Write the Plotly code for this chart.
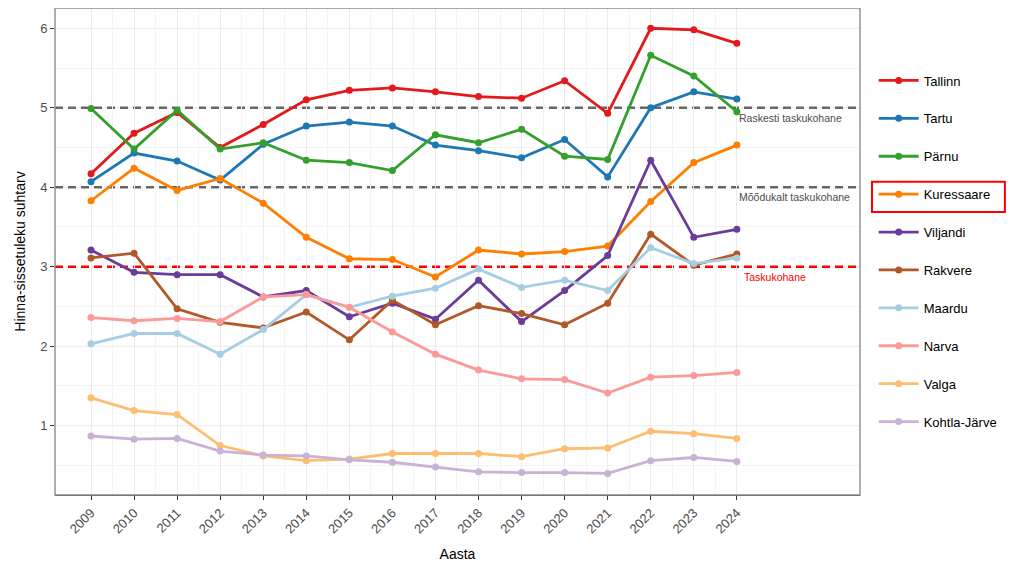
import plotly.graph_objects as go

years = list(range(2009, 2025))
y_ticks = [1, 2, 3, 4, 5, 6]

cities = ["Tallinn", "Tartu", "Pärnu", "Kuressaare", "Viljandi",
          "Rakvere", "Maardu", "Narva", "Valga", "Kohtla-Järve"]

colors = ["#E31A1C", "#1F78B4", "#33A02C", "#FF7F00", "#6A3D9A",
          "#B15928", "#A6CEE3", "#FB9A99", "#FDBF6F", "#CAB2D6"]

tallinn = [4.17, 4.68, 4.94, 4.50, 4.79, 5.10, 5.22, 5.25, 5.20, 5.14, 5.12, 5.34, 4.93, 6.00, 5.98, 5.81]
tartu = [4.07, 4.43, 4.33, 4.09, 4.54, 4.77, 4.82, 4.77, 4.53, 4.46, 4.37, 4.60, 4.13, 5.00, 5.20, 5.11]
parnu = [4.99, 4.48, 4.97, 4.48, 4.56, 4.34, 4.31, 4.21, 4.66, 4.56, 4.73, 4.39, 4.35, 5.66, 5.40, 4.95]
kuressaare = [3.83, 4.24, 3.96, 4.11, 3.80, 3.37, 3.10, 3.09, 2.87, 3.21, 3.16, 3.19, 3.26, 3.82, 4.31, 4.53]
viljandi = [3.21, 2.93, 2.90, 2.90, 2.62, 2.70, 2.37, 2.54, 2.34, 2.83, 2.31, 2.70, 3.14, 4.34, 3.37, 3.47]
rakvere = [3.11, 3.17, 2.47, 2.30, 2.23, 2.43, 2.08, 2.58, 2.27, 2.51, 2.41, 2.27, 2.54, 3.41, 3.02, 3.16]
maardu = [2.03, 2.16, 2.16, 1.90, 2.21, 2.65, 2.49, 2.63, 2.73, 2.97, 2.74, 2.83, 2.70, 3.24, 3.04, 3.11]
narva = [2.36, 2.32, 2.35, 2.31, 2.62, 2.65, 2.49, 2.18, 1.90, 1.70, 1.59, 1.58, 1.41, 1.61, 1.63, 1.67]
valga = [1.35, 1.19, 1.14, 0.75, 0.62, 0.56, 0.58, 0.65, 0.65, 0.65, 0.61, 0.71, 0.72, 0.93, 0.90, 0.84]
kohtla = [0.87, 0.83, 0.84, 0.68, 0.63, 0.62, 0.57, 0.54, 0.48, 0.42, 0.41, 0.41, 0.40, 0.56, 0.60, 0.55]

series = [tallinn, tartu, parnu, kuressaare, viljandi,
          rakvere, maardu, narva, valga, kohtla]

# threshold lines: value, label, colour
thresholds = [
    (5, "Raskesti taskukohane", "#666666"),
    (4, "Mõõdukalt taskukohane", "#666666"),
    (3, "Taskukohane", "#FF0000"),
]

fig = go.Figure()

for name, vals, col in zip(cities, series, colors):
    fig.add_trace(go.Scatter(
        x=years, y=vals, name=name, mode="lines+markers",
        line=dict(color=col, width=2.8),
        marker=dict(color=col, size=7),
        legendgroup=name,
    ))

# horizontal major grid as shapes, so the dashed thresholds can sit on top of it
for v in y_ticks:
    fig.add_hline(y=v, line=dict(color="#EBEBEB", width=1), layer="below")

for val, label, col in thresholds:
    fig.add_hline(y=val, line=dict(color=col, width=2.4, dash="8px,5px"), layer="below")
    fig.add_annotation(
        x=years[-1], y=val, text=label, showarrow=False,
        xanchor="left", yanchor="top", xshift=0 if val != 3 else 5, yshift=-2,
        font=dict(size=10.5, color="#FF0000" if val == 3 else "#4D4D4D"),
    )

# panel border (theme_bw style)
fig.add_shape(type="rect", xref="paper", yref="paper", x0=0, x1=1, y0=0, y1=1,
              line=dict(color="#8C8C8C", width=1.4), layer="above")

# highlight box around Kuressaare in the legend
fig.add_shape(type="rect", xref="paper", yref="paper",
              x0=1.0149, x1=1.180, y0=0.581, y1=0.643,
              line=dict(color="#FF0000", width=2))

# page body adds 8px around the figure, so the figure is sized to fit inside
fig.update_layout(
    width=1008, height=568,
    margin=dict(l=47, r=156, t=0, b=81, autoexpand=False),
    paper_bgcolor="white", plot_bgcolor="white",
    font=dict(family="Liberation Sans, Arial, sans-serif", color="black"),
    showlegend=True,
    legend=dict(
        x=1.017, y=0.501, xanchor="left", yanchor="middle",
        font=dict(size=13, color="black"), bgcolor="rgba(0,0,0,0)",
        tracegroupgap=18, itemwidth=40,
    ),
    xaxis=dict(
        range=[2008.164, 2026.86],
        tickmode="array", tickvals=years, ticktext=[str(y) for y in years],
        tickangle=-45, tickfont=dict(size=13, color="#4D4D4D"),
        ticks="outside", ticklen=4, tickcolor="#333333",
        showgrid=True, gridcolor="#EBEBEB", gridwidth=1,
        minor=dict(tickmode="array", tickvals=[y + 0.5 for y in years[:-1]],
                   showgrid=True, gridcolor="#F4F4F4", gridwidth=0.6, ticks=""),
        zeroline=False, showline=True, linecolor="#333333", linewidth=1.2,
        title=dict(text="Aasta", font=dict(size=14), standoff=13),
    ),
    yaxis=dict(
        range=[0.128, 6.255],
        tickmode="array", tickvals=y_ticks,
        tickfont=dict(size=13, color="#4D4D4D"),
        ticks="outside", ticklen=4, tickcolor="#333333",
        showgrid=False,
        minor=dict(tickmode="array", tickvals=[0.5, 1.5, 2.5, 3.5, 4.5, 5.5],
                   showgrid=True, gridcolor="#F4F4F4", gridwidth=0.6, ticks=""),
        zeroline=False, showline=False,
        title=dict(text="Hinna-sissetuleku suhtarv", font=dict(size=14), standoff=11),
    ),
)

fig.write_html("out.html")
